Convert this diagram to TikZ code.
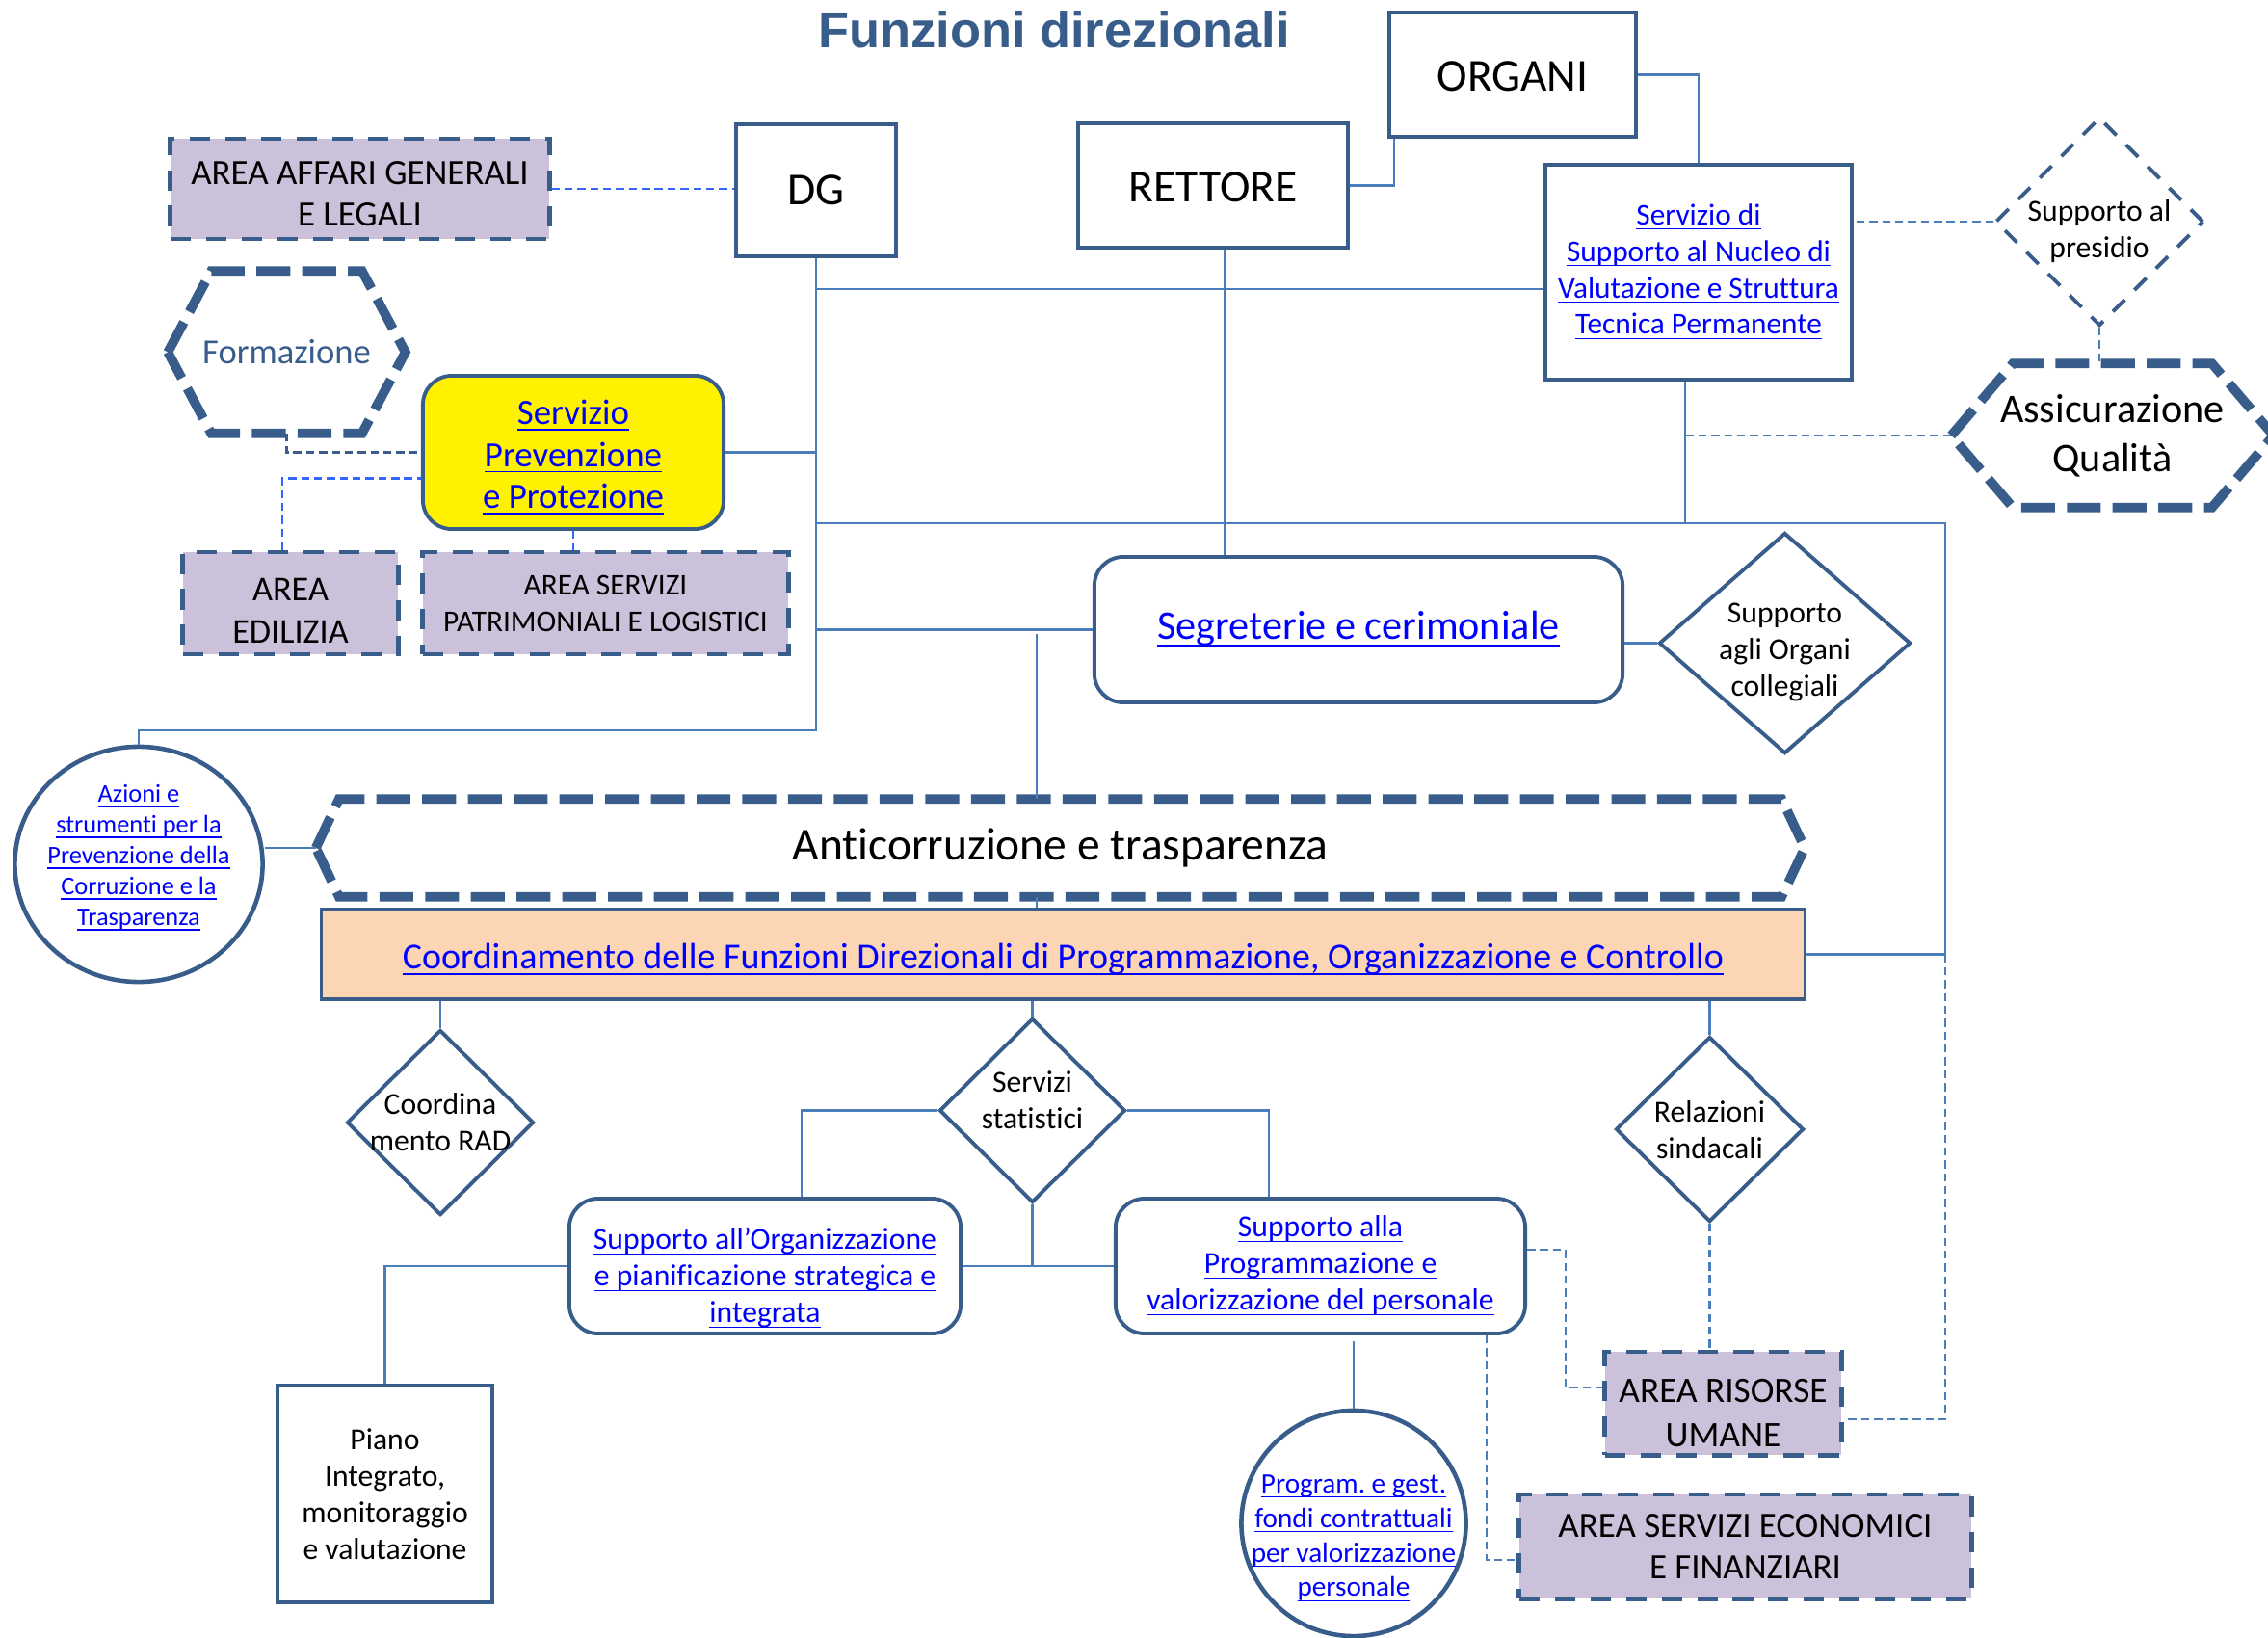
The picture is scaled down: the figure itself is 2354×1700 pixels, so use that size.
\documentclass[tikz,border=0pt]{standalone}
\usepackage{fontspec}
\usepackage{amsmath}
\setmainfont{Carlito}[Ligatures=NoCommon]
\newfontfamily\titlefont{Liberation Sans}
\usetikzlibrary{shapes.geometric,calc}
\definecolor{boxc}{HTML}{385D8A}
\definecolor{linkc}{HTML}{4A7EBB}
\definecolor{brightc}{HTML}{3366FF}
\definecolor{lilac}{HTML}{CCC1DA}
\definecolor{peach}{HTML}{FCD5B5}
\definecolor{hrefc}{HTML}{0000FF}
\newcommand\lnk[1]{\underline{\smash[b]{#1}}}
% text set a little lower (or higher) than the middle of its shape
\newcommand\dropby[2]{\raisebox{-#1}[\height][\depth]{\begin{tabular}{@{}c@{}}#2\end{tabular}}}
\tikzset{
    fs/.style 2 args={font=\fontsize{#1}{#2}\selectfont},
    box/.style={draw=boxc, line width=1.1pt, fill=white, align=center, inner sep=0pt},
    rbox/.style={box, rounded corners=0.3cm},
    area/.style={draw=boxc, fill=lilac, line width=1.4pt, dash pattern=on 6pt off 4.5pt, align=center, inner sep=0pt},
    hexa/.style={align=center, inner sep=0pt},
    hexline/.style={draw=boxc, line width=2.8pt, dash pattern=on 10pt off 3.5pt},
    dia/.style={diamond, draw=boxc, line width=1.1pt, fill=white, inner sep=-10pt, align=center},
    oval/.style={ellipse, draw=boxc, line width=1.3pt, fill=white, inner sep=-10pt, align=center},
    href/.style={text=hrefc},
    link/.style={draw=linkc, line width=0.6pt},
    dlink/.style={link, dash pattern=on 2.4pt off 1.4pt},
    blink/.style={dlink, draw=brightc},
    klink/.style={dlink, draw=boxc},
}
\begin{document}
\begin{tikzpicture}[x=0.01cm, y=-0.01cm]
    \useasboundingbox (0,0) rectangle (2354,1700);

    \node[text=boxc, font=\titlefont\bfseries\fontsize{14.9}{18}\selectfont] (title) at (1094,31) {Funzioni direzionali};

    % upper part
    \node[area, fs={10.5}{12.3}, minimum width=3.93cm, minimum height=1.04cm] (affari) at (373.5,196) {\dropby{0.08cm}{AREA AFFARI GENERALI\\E LEGALI}};
    \node[box, fs={13.5}{16}, minimum width=1.66cm, minimum height=1.37cm] (dg) at (847,197.5) {DG};
    \node[box, fs={13.5}{16}, minimum width=2.80cm, minimum height=1.29cm] (rett) at (1259,192.5) {\dropby{0.06cm}{RETTORE}};
    \node[box, fs={13.5}{16}, minimum width=2.56cm, minimum height=1.29cm] (org) at (1570,77.5) {\dropby{0.06cm}{ORGANI}};
    \node[box, href, fs={8.9}{10.8}, minimum width=3.18cm, minimum height=2.23cm] (nucleo) at (1763,282.5)
        {\lnk{Servizio di}\\\lnk{Supporto al Nucleo di}\\\lnk{Valutazione e Struttura}\\\lnk{Tecnica Permanente}};
    \node[dia, fs={9}{10.8}, dash pattern=on 5pt off 4pt, minimum width=2.16cm, minimum height=2.16cm] (pres) at (2179,230) {\dropby{0.11cm}{Supporto al\\presidio}};
    \node[hexa, fs={12}{14.5}, minimum width=3.33cm, minimum height=1.48cm] (assic) at (2192.5,452) {Assicurazione\\Qualità};
    \node[hexa, text=boxc, fs={10.4}{12.5}, minimum width=2.45cm, minimum height=1.67cm] (form) at (297.5,365.5) {Formazione};
    \node[rbox, fill=yellow, href, fs={10.5}{12.4}, minimum width=3.12cm, minimum height=1.59cm] (prev) at (595,469.5)
        {\dropby{0.06cm}{\lnk{Servizio}\\\lnk{Prevenzione}\\\lnk{e Protezione}}};
    \node[area, fs={10.3}{12.5}, minimum width=2.23cm, minimum height=1.06cm] (edil) at (301.5,626) {\dropby{0.11cm}{AREA\\EDILIZIA}};
    \node[area, fs={8.9}{10.8}, minimum width=3.79cm, minimum height=1.06cm] (patr) at (628.5,626) {AREA SERVIZI\\PATRIMONIALI E LOGISTICI};
    \node[rbox, href, fs={12}{14.5}, minimum width=5.48cm, minimum height=1.51cm] (seg) at (1410,653.5) {\lnk{Segreterie e cerimoniale}};
    \node[dia, fs={9}{10.8}, minimum width=2.61cm, minimum height=2.29cm] (coll) at (1852.5,667.5) {\dropby{0.09cm}{Supporto\\agli Organi\\collegiali}};

    % middle band
    \node[oval, href, fs={7.5}{9.1}, minimum width=2.57cm, minimum height=2.44cm] (azi) at (144,897)
        {\dropby{-0.07cm}{\lnk{Azioni e}\\\lnk{strumenti per la}\\\lnk{Prevenzione della}\\\lnk{Corruzione e la}\\\lnk{Trasparenza}}};
    \node[hexa, fs={13.5}{16}, minimum width=15.43cm, minimum height=1.00cm] (anti) at (1100.5,880) {Anticorruzione e trasparenza};
    \node[box, fill=peach, href, fs={10.8}{13}, minimum width=15.39cm, minimum height=0.93cm] (coord) at (1103.5,990.5)
        {\dropby{0.06cm}{\lnk{Coordinamento delle Funzioni Direzionali di Programmazione, Organizzazione e Controllo}}};

    % lower part
    \node[dia, fs={9}{10.8}, minimum width=1.94cm, minimum height=1.92cm] (rad) at (457,1165) {Coordina\\mento RAD};
    \node[dia, fs={9}{10.8}, minimum width=1.93cm, minimum height=1.91cm] (stat) at (1071.5,1152.5) {\dropby{-0.08cm}{Servizi\\statistici}};
    \node[dia, fs={9}{10.8}, minimum width=1.95cm, minimum height=1.92cm] (rel) at (1774.5,1172) {\dropby{0.04cm}{Relazioni\\sindacali}};
    \node[rbox, href, fs={9}{10.8}, minimum width=4.06cm, minimum height=1.40cm] (sorg) at (794,1314)
        {\dropby{0.13cm}{\lnk{Supporto all’Organizzazione}\\\lnk{e pianificazione strategica e}\\\lnk{integrata}}};
    \node[rbox, href, fs={9}{10.8}, minimum width=4.25cm, minimum height=1.40cm] (sprog) at (1370.5,1314)
        {\lnk{Supporto alla}\\\lnk{Programmazione e}\\\lnk{valorizzazione del personale}};
    \node[box, fs={9}{10.8}, minimum width=2.23cm, minimum height=2.25cm] (piano) at (399.5,1550.5)
        {Piano\\Integrato,\\monitoraggio\\e valutazione};
    \node[area, fs={10.6}{13}, minimum width=2.45cm, minimum height=1.07cm] (risorse) at (1788.5,1456.5) {\dropby{0.13cm}{AREA RISORSE\\UMANE}};
    \node[oval, href, fs={8.3}{10.2}, minimum width=2.33cm, minimum height=2.34cm] (fondi) at (1405,1581)
        {\dropby{0.15cm}{\lnk{Program.\ e gest.}\\\lnk{fondi contrattuali}\\\lnk{per valorizzazione}\\\lnk{personale}}};
    \node[area, fs={10.5}{12.2}, minimum width=4.69cm, minimum height=1.08cm] (econ) at (1811.5,1605) {AREA SERVIZI ECONOMICI\\E FINANZIARI};

    % hexagons round the text nodes
    \foreach \hx/\hd in {form/0.45, anti/0.24, assic/0.64}
        \draw[hexline] (\hx.west) -- ([xshift=\hd cm]\hx.north west) -- ([xshift=-\hd cm]\hx.north east)
            -- (\hx.east) -- ([xshift=-\hd cm]\hx.south east) -- ([xshift=\hd cm]\hx.south west) -- cycle;

    % junctions
    \coordinate (jA) at (847,300);
    \coordinate (jB) at (847,543);
    \coordinate (jE) at (847,758);
    \coordinate (jC) at (1749,543);
    \coordinate (jR) at (2019,543);
    \coordinate (jD) at (1076,658);
    \coordinate (jN) at (1271,0);
    \coordinate (jO) at (1447,0);
    \coordinate (jT) at (832,0);
    \coordinate (jU) at (1317,0);
    \coordinate (jV) at (293,0);
    \coordinate (jW) at (1625,1440);
    \coordinate (jX) at (1543,1619);
    \coordinate (jS) at (2019,1473);

    % solid connectors
    \draw[link] (dg.south) -- (jE) -| (azi.north);
    \draw[link] (jA) -- (jA -| nucleo.west);
    \draw[link] (prev.east) -- (prev.east -| jA);
    \draw[link] (jB) -- (jC) -- (jC |- nucleo.south);
    \draw[link] (seg.west) -- (seg.west -| jA);
    \draw[link] (jD) -- (jD |- anti.north);
    \draw[link] (jD |- anti.south) -- (jD |- coord.north);
    \draw[link] (anti.west) -- (anti.west -| azi.east);
    \draw[link] (jN |- rett.south) -- (jN |- seg.north);
    \draw[link] (rett.east) -| (jO |- org.south);
    \draw[link] (org.east) -| (nucleo.north);
    \draw[link] (coll.west -| seg.east) -- (coll.west);
    \draw[link] (jC) -- (jR) -- (jR |- coord.east) -- (coord.east);
    \draw[link] (rad.north) -- (rad.north |- coord.south);
    \draw[link] (stat.north) -- (stat.north |- coord.south);
    \draw[link] (rel.north) -- (rel.north |- coord.south);
    \draw[link] (stat.west) -- (stat.west -| jT) -- (jT |- sorg.north);
    \draw[link] (stat.east) -- (stat.east -| jU) -- (jU |- sprog.north);
    \draw[link] (sorg.east) -- (sprog.west);
    \draw[link] (stat.south) -- (stat.south |- sorg.east);
    \draw[link] (sorg.west) -| (piano.north);
    \draw[link] ([yshift=-0.06cm]fondi.north |- sprog.south) -- (fondi.north);

    % dashed connectors
    \draw[blink] (affari.east) -- (affari.east -| dg.west);
    \draw[klink] (form.south) |- (prev.west);
    \draw[blink] (jV |- edil.north) |- ([yshift=-0.27cm]prev.west);
    \draw[blink] (prev.south) -- (prev.south |- patr.north);
    \draw[dlink] (pres.west) -- (pres.west -| nucleo.east);
    \draw[dlink] (pres.south) -- (pres.south |- assic.north);
    \draw[dlink] (assic.west) -- (assic.west -| jC);
    \draw[dlink] (rel.south) -- (rel.south |- risorse.north);
    \draw[dlink] ([yshift=0.17cm]sprog.east) -| (jW) -- (jW -| risorse.west);
    \draw[dlink] (jX |- sprog.south) -- (jX) -- (jX -| econ.west);
    \draw[dlink] (jR |- coord.east) -- (jS) -- (jS -| risorse.east);
\end{tikzpicture}
\end{document}
